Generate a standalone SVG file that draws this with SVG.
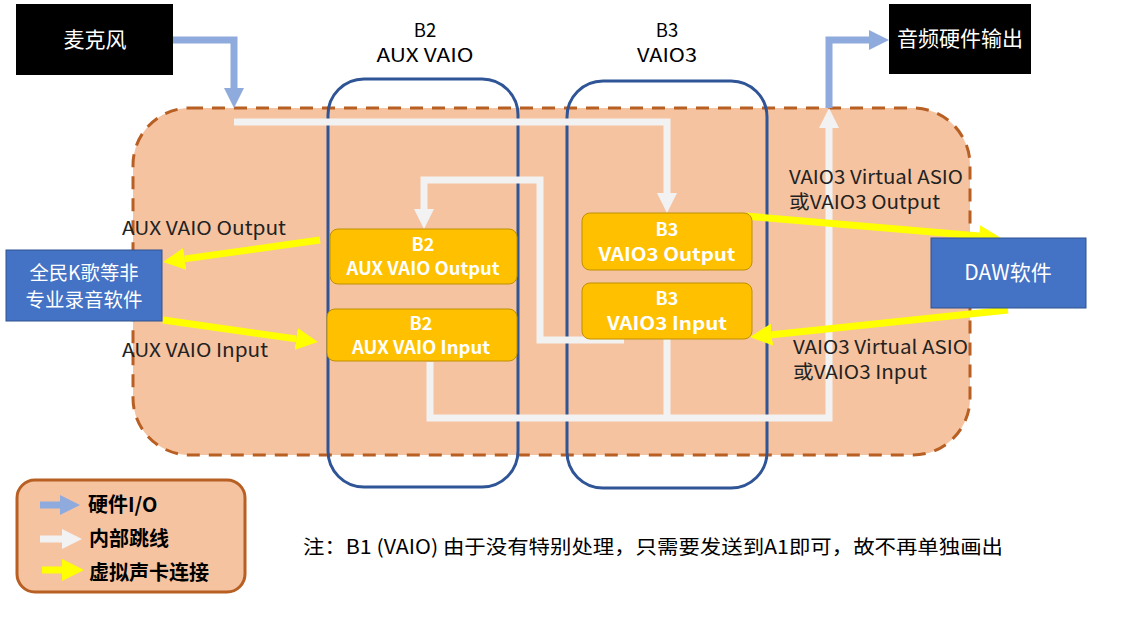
<svg xmlns="http://www.w3.org/2000/svg" width="1131" height="629" viewBox="0 0 1131 629">
<style>
.lbl{font-family:"Noto Sans CJK SC","Liberation Sans",sans-serif;font-size:19px;fill:#222;}
.hdr{font-family:"Noto Sans CJK SC","Liberation Sans",sans-serif;font-size:18.5px;fill:#000;text-anchor:middle;}
.ybox{fill:#FFC000;stroke:#BF9000;stroke-width:1;}
.ytxt{font-family:"Noto Sans CJK SC","Liberation Sans",sans-serif;font-size:18px;font-weight:bold;fill:#fff;text-anchor:middle;}
.bbox{fill:#4472C4;stroke:#2F528F;stroke-width:1;}
.wtxt{font-family:"Noto Sans CJK SC","Liberation Sans",sans-serif;font-size:20px;fill:#fff;text-anchor:middle;}
.blk{fill:#000;}
.hw{fill:none;stroke:#8FAADC;stroke-width:7;}
.wl{fill:none;stroke:#F2F2F2;stroke-width:7;}
.yl{fill:none;stroke:#FFFF00;stroke-width:7;}
.bus{fill:none;stroke:#2F5597;stroke-width:3;}
.leg{font-family:"Noto Sans CJK SC","Liberation Sans",sans-serif;font-size:20px;font-weight:bold;fill:#000;}
</style>
<defs>
<marker id="ah-b" markerUnits="userSpaceOnUse" viewBox="0 -10 20 20" refX="0" refY="0" markerWidth="20" markerHeight="20" orient="auto"><path d="M0,-10 L20,0 L0,10 z" fill="#8FAADC"/></marker>
<marker id="ah-w" markerUnits="userSpaceOnUse" viewBox="0 -10 20 20" refX="0" refY="0" markerWidth="20" markerHeight="20" orient="auto"><path d="M0,-10 L20,0 L0,10 z" fill="#F2F2F2"/></marker>
<marker id="ah-y" markerUnits="userSpaceOnUse" viewBox="0 -11 22 22" refX="0" refY="0" markerWidth="22" markerHeight="22" orient="auto"><path d="M0,-11 L22,0 L0,11 z" fill="#FFFF00"/></marker>
</defs>

<g id="engine">
<rect x="133" y="108" width="837" height="347" rx="57" ry="57" fill="#F6C3A0" stroke="#B85F23" stroke-width="3" stroke-dasharray="13 9"/>
</g>

<g id="bus-b2">
<rect class="bus" x="328" y="79" width="190" height="408" rx="36" ry="36"/>
<text class="hdr" x="425" y="37">B2</text>
<text class="hdr" x="425" y="62" textLength="97" lengthAdjust="spacingAndGlyphs">AUX VAIO</text>
</g>
<g id="bus-b3">
<rect class="bus" x="567" y="81" width="200" height="407" rx="36" ry="36"/>
<text class="hdr" x="667" y="37">B3</text>
<text class="hdr" x="667" y="62" textLength="60" lengthAdjust="spacingAndGlyphs">VAIO3</text>
</g>

<g id="connectors">
<path class="hw" d="M173,40 H234 V88" marker-end="url(#ah-b)"/>
<path class="hw" d="M829,108 V40 H869" marker-end="url(#ah-b)"/>
<path class="wl" d="M234,122 H667 V193" marker-end="url(#ah-w)"/>
<path class="wl" d="M624,340 H540 V180 H424 V209" marker-end="url(#ah-w)"/>
<path class="wl" d="M430,362 V418 H829 V128" marker-end="url(#ah-w)"/>
<path class="wl" d="M667,339 V418"/>
<path class="yl" d="M320,240 L184.8,258.9" marker-end="url(#ah-y)"/>
<path class="yl" d="M163,320 L296.2,338.9" marker-end="url(#ah-y)"/>
<path class="yl" d="M745,216 L979.1,236.1" marker-end="url(#ah-y)"/>
<path class="yl" d="M1008,310 L771.9,334.7" marker-end="url(#ah-y)"/>
</g>

<g id="mic">
<rect class="blk" x="16" y="4" width="157" height="71"/>
<text class="wtxt" x="95" y="47" style="font-size:21px">麦克风</text>
</g>
<g id="hw-out">
<rect class="blk" x="889" y="4" width="142" height="70"/>
<text class="wtxt" x="960" y="46" style="font-size:21px">音频硬件输出</text>
</g>

<g id="b2-output">
<rect class="ybox" x="330" y="229" width="187" height="55" rx="8" ry="8"/>
<text class="ytxt" x="423" y="251">B2</text>
<text class="ytxt" x="423" y="275" textLength="153" lengthAdjust="spacingAndGlyphs">AUX VAIO Output</text>
</g>
<g id="b2-input">
<rect class="ybox" x="327" y="309" width="190" height="52" rx="8" ry="8"/>
<text class="ytxt" x="421" y="330">B2</text>
<text class="ytxt" x="421" y="354" textLength="138" lengthAdjust="spacingAndGlyphs">AUX VAIO Input</text>
</g>
<g id="b3-output">
<rect class="ybox" x="582" y="213" width="170" height="57" rx="8" ry="8"/>
<text class="ytxt" x="667" y="236">B3</text>
<text class="ytxt" x="667" y="261" textLength="137" lengthAdjust="spacingAndGlyphs">VAIO3 Output</text>
</g>
<g id="b3-input">
<rect class="ybox" x="582" y="283" width="170" height="56" rx="8" ry="8"/>
<text class="ytxt" x="667" y="305">B3</text>
<text class="ytxt" x="667" y="330" textLength="120" lengthAdjust="spacingAndGlyphs">VAIO3 Input</text>
</g>

<g id="karaoke">
<rect class="bbox" x="6" y="250" width="156" height="71"/>
<text class="wtxt" x="84" y="280" style="font-size:19.5px" textLength="109" lengthAdjust="spacingAndGlyphs">全民K歌等非</text>
<text class="wtxt" x="84" y="307" style="font-size:19.5px">专业录音软件</text>
</g>
<g id="daw">
<rect class="bbox" x="931" y="238" width="155" height="70"/>
<text class="wtxt" x="1008" y="280" style="font-size:21px">DAW软件</text>
</g>

<g id="labels">
<text class="lbl" x="122" y="235" textLength="164" lengthAdjust="spacingAndGlyphs">AUX VAIO Output</text>
<text class="lbl" x="122" y="357" textLength="146" lengthAdjust="spacingAndGlyphs">AUX VAIO Input</text>
<text class="lbl" x="789" y="184" textLength="174" lengthAdjust="spacingAndGlyphs">VAIO3 Virtual ASIO</text>
<text class="lbl" x="789" y="209" textLength="151" lengthAdjust="spacingAndGlyphs">或VAIO3 Output</text>
<text class="lbl" x="793" y="354" textLength="175" lengthAdjust="spacingAndGlyphs">VAIO3 Virtual ASIO</text>
<text class="lbl" x="793" y="379" textLength="134" lengthAdjust="spacingAndGlyphs">或VAIO3 Input</text>
</g>

<g id="legend">
<rect x="17" y="480" width="228" height="112" rx="18" ry="18" fill="#F6C3A0" stroke="#B85F23" stroke-width="3"/>
<path class="hw" d="M40,505 H60" marker-end="url(#ah-b)"/>
<path class="wl" d="M40,539 H62" marker-end="url(#ah-w)"/>
<path class="yl" d="M42,570 H62" marker-end="url(#ah-y)"/>
<text class="leg" x="88" y="512">硬件I/O</text>
<text class="leg" x="89" y="546">内部跳线</text>
<text class="leg" x="89" y="580">虚拟声卡连接</text>
</g>

<g id="note">
<text class="lbl" x="303" y="554" style="fill:#000;font-size:19.5px" textLength="700" lengthAdjust="spacingAndGlyphs">注：B1 (VAIO) 由于没有特别处理，只需要发送到A1即可，故不再单独画出</text>
</g>
</svg>
